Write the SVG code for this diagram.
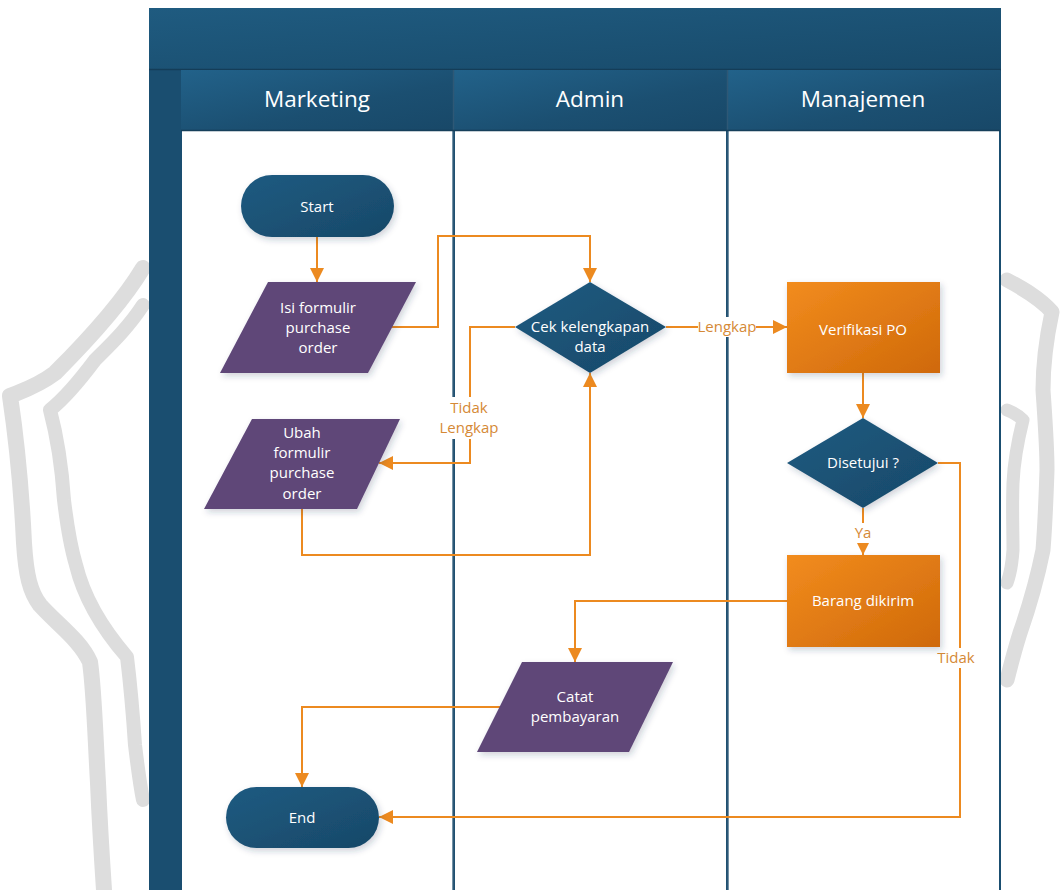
<svg xmlns="http://www.w3.org/2000/svg" width="1060" height="890" viewBox="0 0 1060 890">
  <defs>
    <style>
      .wm { fill: none; stroke: #dddddd; stroke-linecap: round; stroke-linejoin: round; }
      .hdr { font-family: "Open Sans", "Noto Sans", "Liberation Sans", sans-serif; font-size: 22.5px; fill: #ffffff; text-anchor: middle; }
      .lbl { font-family: "Open Sans", "Noto Sans", "Liberation Sans", sans-serif; font-size: 15px; fill: #ffffff; text-anchor: middle; }
      .elbl { font-family: "Open Sans", "Noto Sans", "Liberation Sans", sans-serif; font-size: 15px; fill: #d58936; text-anchor: middle; }
      .conn { fill: none; stroke: #ec8a20; stroke-width: 2; marker-end: url(#arrow); }
      .lane { fill: #ffffff; }
      .blue { fill: url(#gBlue); filter: url(#shadow); }
      .orange { fill: url(#gOrange); filter: url(#shadow); }
      .purple { fill: #5e4778; filter: url(#shadow); }
      .bg { fill: #ffffff; }
    </style>
    <linearGradient id="gTitle" x1="0" y1="0" x2="1" y2="1">
      <stop offset="0" stop-color="#1f5b80"/>
      <stop offset="1" stop-color="#184a6a"/>
    </linearGradient>
    <linearGradient id="gHead" x1="0" y1="0" x2="1" y2="1">
      <stop offset="0" stop-color="#22628a"/>
      <stop offset="0.6" stop-color="#1b4f71"/>
      <stop offset="1" stop-color="#184868"/>
    </linearGradient>
    <linearGradient id="gBlue" x1="0" y1="0" x2="1" y2="1">
      <stop offset="0" stop-color="#1f5b81"/>
      <stop offset="1" stop-color="#174868"/>
    </linearGradient>
    <linearGradient id="gOrange" x1="0" y1="0" x2="1" y2="1">
      <stop offset="0" stop-color="#f28c1e"/>
      <stop offset="1" stop-color="#cf690a"/>
    </linearGradient>
    <filter id="shadow" x="-20%" y="-20%" width="150%" height="150%">
      <feDropShadow dx="2" dy="3" stdDeviation="3" flood-color="#1a3a55" flood-opacity="0.22"/>
    </filter>
    <marker id="arrow" markerUnits="userSpaceOnUse" markerWidth="14" markerHeight="14" refX="14" refY="7" orient="auto">
      <path d="M0,0 L14,7 L0,14 z" fill="#ec8a20"/>
    </marker>
  </defs>

  <!-- background -->
  <rect x="0" y="0" width="1060" height="890" fill="#ffffff"/>

  <!-- faint shield outlines behind the pool -->
  <g id="watermark">
    <path class="wm" stroke-width="16" d="M143,268 C125,298 95,333 55,373 C38,386 22,391 10,396 C18,450 22,500 24,543 C26,575 30,592 40,605 C58,625 80,640 90,662 C94,690 95,730 98,783 C100,830 102,860 104,890"/>
    <path class="wm" stroke-width="14" d="M143,305 C128,328 110,345 95,360 C80,380 65,398 50,410 C58,440 62,470 64,500 C67,525 70,545 76,565 C82,590 95,620 127,657 C131,690 133,715 135,745 C138,770 141,790 143,800"/>
    <path class="wm" stroke-width="15" d="M1007,280 C1022,288 1040,298 1052,312 C1046,340 1043,362 1043,390 C1045,420 1047,445 1047,470 C1046,500 1045,525 1043,550 C1036,585 1028,610 1020,633 C1014,652 1010,668 1007,680"/>
    <path class="wm" stroke-width="13" d="M1007,410 C1012,412 1018,415 1023,420 C1018,440 1014,460 1013,483 C1012,510 1013,530 1013,550 C1012,565 1010,575 1007,583"/>
  </g>

  <!-- pool frame -->
  <g id="pool">
    <rect x="149" y="8" width="852" height="890" fill="#1a4e70"/>
    <rect x="149" y="8" width="852" height="61" fill="url(#gTitle)"/>
    <line x1="149" y1="69.5" x2="1001" y2="69.5" stroke="#143d58" stroke-width="1.5"/>
  </g>

  <!-- swimlanes -->
  <g id="lane-marketing">
    <rect x="181" y="70" width="272" height="60" fill="url(#gHead)"/>
    <text class="hdr" x="317" y="107">Marketing</text>
    <rect class="lane" x="182" y="131" width="270.5" height="760"/>
  </g>
  <g id="lane-admin">
    <rect x="454" y="70" width="273" height="60" fill="url(#gHead)"/>
    <text class="hdr" x="590" y="107">Admin</text>
    <rect class="lane" x="455" y="131" width="271" height="760"/>
  </g>
  <g id="lane-manajemen">
    <rect x="728" y="70" width="272" height="60" fill="url(#gHead)"/>
    <text class="hdr" x="863" y="107">Manajemen</text>
    <rect class="lane" x="728.5" y="131" width="270.5" height="760"/>
  </g>
  <g id="lane-lines" stroke="#2e5876" stroke-width="1.5">
    <line x1="453.5" y1="70" x2="453.5" y2="890"/>
    <line x1="727.5" y1="70" x2="727.5" y2="890"/>
    <line x1="181" y1="130.5" x2="1000" y2="130.5" stroke="#163f5a"/>
  </g>

  <!-- connectors -->
  <g id="connectors">
    <path class="conn" d="M317,237 V282"/>
    <path class="conn" d="M392,327 H438 V236 H590 V282"/>
    <path class="conn" d="M515,327 H470 V463 H379"/>
    <path class="conn" d="M302,509 V555 H590 V373"/>
    <path class="conn" d="M666,327 H787"/>
    <path class="conn" d="M863,373 V418"/>
    <path class="conn" d="M863,508 V555"/>
    <path class="conn" d="M938,463 H960 V817 H379"/>
    <path class="conn" d="M787,601 H575 V662"/>
    <path class="conn" d="M500,707 H302 V787"/>

    <rect class="bg" x="438" y="397" width="64" height="42"/>
    <text class="elbl" x="469" y="413">Tidak</text>
    <text class="elbl" x="469" y="433">Lengkap</text>

    <rect class="bg" x="698" y="317" width="58" height="20"/>
    <text class="elbl" x="727" y="332">Lengkap</text>

    <rect class="bg" x="851" y="523" width="24" height="20"/>
    <text class="elbl" x="863" y="538">Ya</text>

    <rect class="bg" x="935" y="648" width="42" height="20"/>
    <text class="elbl" x="956" y="663">Tidak</text>
  </g>

  <!-- nodes -->
  <g id="node-start">
    <rect class="blue" x="241" y="175" width="153" height="62" rx="31" ry="31"/>
    <text class="lbl" x="317" y="212">Start</text>
  </g>
  <g id="node-isi-formulir">
    <polygon class="purple" points="268,282 416,282 368,373 220,373"/>
    <text class="lbl" x="318" y="313">Isi formulir</text>
    <text class="lbl" x="318" y="333">purchase</text>
    <text class="lbl" x="318" y="353">order</text>
  </g>
  <g id="node-cek-kelengkapan">
    <polygon class="blue" points="590,282 666,327 590,373 515,327"/>
    <text class="lbl" x="590" y="332">Cek kelengkapan</text>
    <text class="lbl" x="590" y="352">data</text>
  </g>
  <g id="node-ubah-formulir">
    <polygon class="purple" points="252,419 400,419 357,509 204,509"/>
    <text class="lbl" x="302" y="438">Ubah</text>
    <text class="lbl" x="302" y="458">formulir</text>
    <text class="lbl" x="302" y="478">purchase</text>
    <text class="lbl" x="302" y="499">order</text>
  </g>
  <g id="node-verifikasi-po">
    <rect class="orange" x="787" y="282" width="153" height="91"/>
    <text class="lbl" x="863" y="335">Verifikasi PO</text>
  </g>
  <g id="node-disetujui">
    <polygon class="blue" points="863,418 938,463 863,508 787,463"/>
    <text class="lbl" x="863" y="468">Disetujui ?</text>
  </g>
  <g id="node-barang-dikirim">
    <rect class="orange" x="787" y="555" width="153" height="92"/>
    <text class="lbl" x="863" y="606">Barang dikirim</text>
  </g>
  <g id="node-catat-pembayaran">
    <polygon class="purple" points="522,662 673,662 629,752 477,752"/>
    <text class="lbl" x="575" y="702">Catat</text>
    <text class="lbl" x="575" y="722">pembayaran</text>
  </g>
  <g id="node-end">
    <rect class="blue" x="226" y="787" width="153" height="61" rx="30.5" ry="30.5"/>
    <text class="lbl" x="302" y="823">End</text>
  </g>
</svg>
